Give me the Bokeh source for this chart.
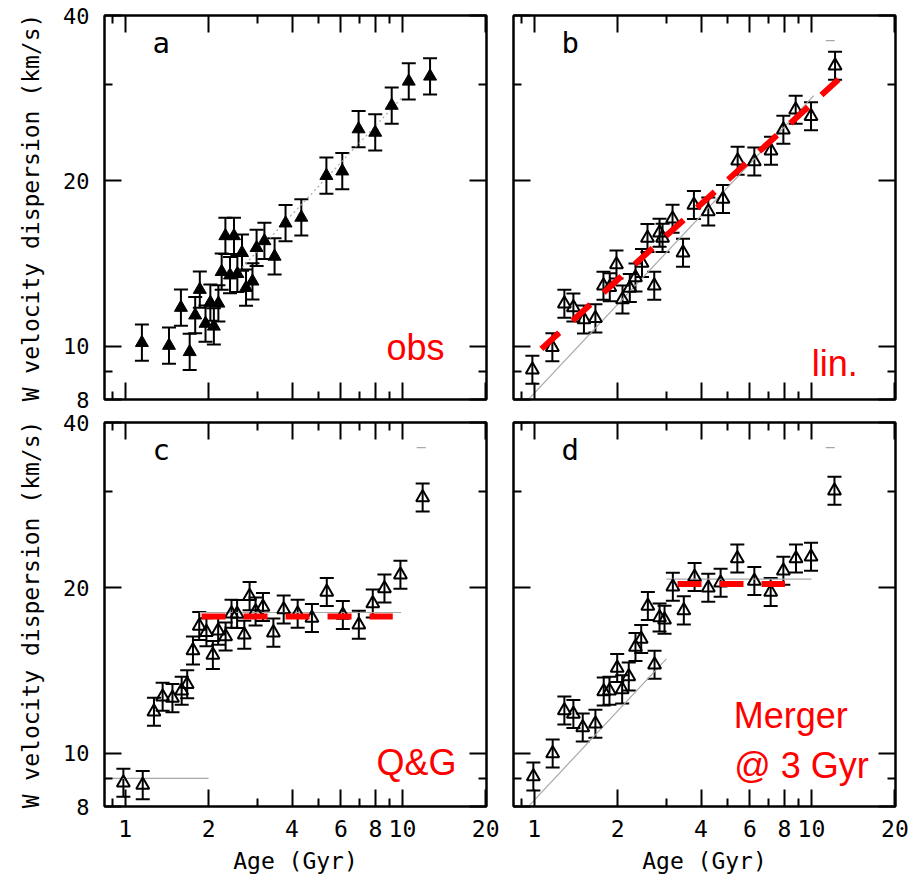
from bokeh.plotting import figure
from bokeh.models import (Range1d, LogAxis, FixedTicker, CustomJSTickFormatter,
                          ColumnDataSource, Whisker, TeeHead, Label)
from bokeh.layouts import gridplot
from bokeh.embed import file_html
from bokeh.resources import INLINE

# ---- data ---------------------------------------------------------------
# (a) observed W velocity dispersion vs age
age_obs = [1.15, 1.44, 1.59, 1.71, 1.79, 1.86, 1.95, 2.03, 2.09, 2.17, 2.23, 2.30,
           2.39, 2.47, 2.54, 2.64, 2.73, 2.88, 2.98, 3.18, 3.46, 3.79, 4.32, 5.32,
           6.07, 6.95, 7.98, 9.15, 10.54, 12.58]
sig_obs = [10.15, 10.03, 11.76, 9.77, 11.39, 12.68, 11.0, 12.01, 10.87, 11.97, 13.67,
           15.88, 13.47, 15.88, 13.55, 14.8, 12.78, 13.13, 15.11, 15.55, 14.57, 16.75,
           17.16, 20.44, 20.83, 24.85, 24.5, 27.43, 30.35, 31.0]

# (b) linear heating model
age_lin = [0.986, 1.164, 1.286, 1.386, 1.513, 1.664, 1.779, 1.875, 1.982, 2.084, 2.214,
           2.321, 2.450, 2.564, 2.712, 2.834, 2.906, 3.157, 3.444, 3.770, 4.248, 4.799,
           5.420, 6.226, 7.149, 7.923, 8.776, 9.968, 12.17]
sig_lin = [9.06, 9.96, 11.95, 11.76, 11.19, 11.24, 12.89, 12.80, 14.09, 12.17, 12.77,
           13.34, 14.17, 15.74, 12.89, 16.09, 15.75, 17.07, 14.8, 18.08, 17.59, 18.53,
           21.76, 21.7, 22.69, 24.78, 26.95, 26.23, 32.4]

# (c) Q&G saturation model
age_qg = [0.986, 1.158, 1.271, 1.366, 1.482, 1.600, 1.675, 1.757, 1.851, 1.965, 2.073,
          2.166, 2.304, 2.420, 2.535, 2.691, 2.812, 2.955, 3.142, 3.426, 3.732, 4.191,
          4.718, 5.337, 6.099, 6.964, 7.819, 8.615, 9.836, 11.83]
sig_qg = [8.84, 8.75, 11.90, 12.67, 12.60, 13.0, 13.35, 15.39, 17.04, 16.61, 15.1,
          16.71, 16.32, 17.95, 17.93, 16.43, 19.32, 18.11, 18.46, 16.58, 18.27, 17.95,
          17.62, 19.66, 17.85, 17.14, 18.74, 19.95, 21.13, 29.22]

# (d) merger at 3 Gyr model
age_mrg = [0.994, 1.167, 1.286, 1.386, 1.498, 1.664, 1.783, 1.870, 1.994, 2.078, 2.195,
           2.321, 2.434, 2.572, 2.719, 2.834, 2.954, 3.165, 3.467, 3.791, 4.248, 4.706,
           5.406, 6.226, 7.131, 7.923, 8.798, 9.968, 12.11]
sig_mrg = [9.07, 9.99, 11.96, 11.79, 11.14, 11.32, 12.96, 13.0, 14.29, 13.07, 13.8,
           15.61, 16.14, 18.53, 14.49, 17.67, 17.5, 20.09, 18.2, 20.93, 20.01, 20.44,
           22.62, 20.58, 19.66, 21.49, 22.62, 22.78, 30.05]

# error bar half-widths in dex
err_obs_dex = 0.033
err_model_dex = 0.0255

# thin grey reference curves
ref_age = [0.96, 10.2]
ref_sig = [8.03, 28.6]
obs_ref_age = [2.5, 10.0]
obs_ref_sig = [13.5, 28.4]
qg_low_age, qg_low_sig = [0.85, 2.0], [9.0, 9.0]
qg_high_age, qg_high_sig = [1.86, 9.9], [18.04, 18.04]
mrg_rise_age, mrg_rise_sig = [0.96, 3.0], [8.03, 14.85]
mrg_flat_age, mrg_flat_sig = [3.0, 10.0], [20.75, 20.75]
top_bin_age, top_bin_sig = [11.26, 12.14], [36.0, 36.0]

# red dashed fits
fit_lin_age, fit_lin_sig = [1.063, 12.52], [9.89, 30.59]
fit_qg_age, fit_qg_sig = [1.887, 9.23], [17.74, 17.74]
fit_mrg_age, fit_mrg_sig = [3.29, 8.03], [20.32, 20.32]

# axis ticks
x_major = [1, 2, 4, 6, 8, 10, 20]
x_minor = [0.9, 3, 5, 7, 9]
y_major = [8, 10, 20, 40]
y_minor = [9, 30]

MONO = "DejaVu Sans Mono"
SANS = "Liberation Sans"
FRAME_W, FRAME_H = 382, 384


def style_axis(ax, ticks, minor, show_labels, label_size="23px"):
    ax.ticker = FixedTicker(ticks=ticks, minor_ticks=minor)
    ax.formatter = CustomJSTickFormatter(code="return String(tick);")
    ax.major_tick_in = 17
    ax.major_tick_out = 0
    ax.minor_tick_in = 8
    ax.minor_tick_out = 0
    ax.major_tick_line_width = 2
    ax.minor_tick_line_width = 2
    ax.major_tick_line_color = "black"
    ax.minor_tick_line_color = "black"
    ax.axis_line_width = 2
    ax.axis_line_color = "black"
    if show_labels:
        ax.major_label_text_font = MONO
        ax.major_label_text_font_size = label_size
        ax.major_label_text_color = "black"
    else:
        ax.major_label_text_font_size = "0px"
        ax.major_label_text_color = None
        ax.major_label_standoff = 0


def panel(col, row, letter):
    left = col == 0
    bottom = row == 1
    bl, br = (104, 13) if left else (14, 27)
    bt, bb = (15, 12) if not bottom else (11, 72)
    p = figure(width=FRAME_W + bl + br, height=FRAME_H + bt + bb,
               x_axis_type="log", y_axis_type="log",
               x_range=Range1d(0.843, 20.1), y_range=Range1d(8, 40),
               min_border_left=bl, min_border_right=br,
               min_border_top=bt, min_border_bottom=bb,
               output_backend="svg", toolbar_location=None)
    p.grid.visible = False
    p.outline_line_color = "black"
    p.outline_line_width = 2
    p.background_fill_color = "white"
    p.border_fill_color = "white"

    style_axis(p.xaxis[0], x_major, x_minor, bottom, "23px")
    style_axis(p.yaxis[0], y_major, y_minor, left, "22px")
    if bottom:
        p.xaxis[0].major_label_standoff = 13
        p.xaxis[0].axis_label = "Age (Gyr)"
        p.xaxis[0].axis_label_standoff = 8
    if left:
        p.yaxis[0].major_label_standoff = 15
        p.yaxis[0].axis_label = "W velocity dispersion (km/s)"
        p.yaxis[0].axis_label_standoff = 16
    for ax in (p.xaxis[0], p.yaxis[0]):
        ax.axis_label_text_font = MONO
        ax.axis_label_text_font_size = "23px"
        ax.axis_label_text_font_style = "normal"
        ax.axis_label_text_color = "black"

    top_ax = LogAxis()
    style_axis(top_ax, x_major, x_minor, False)
    p.add_layout(top_ax, "above")
    right_ax = LogAxis()
    style_axis(right_ax, y_major, y_minor, False)
    p.add_layout(right_ax, "right")

    p.add_layout(Label(x=1.35, y=35.7, text=letter, text_font=MONO,
                       text_font_size="29px", text_color="black",
                       text_align="center", text_baseline="middle"))
    return p


def add_points(p, ages, sigs, err_dex, filled):
    f = 10 ** err_dex
    src = ColumnDataSource(dict(x=ages, y=sigs,
                                lo=[s / f for s in sigs],
                                hi=[s * f for s in sigs]))
    w = Whisker(base="x", upper="hi", lower="lo", source=src, dimension="height",
                line_color="black", line_width=2,
                upper_head=TeeHead(size=14, line_width=2, line_color="black"),
                lower_head=TeeHead(size=14, line_width=2, line_color="black"))
    p.add_layout(w)
    if filled:
        p.scatter("x", "y", source=src, marker="triangle", size=13,
                  fill_color="black", line_color="black", line_width=1)
    else:
        p.scatter("x", "y", source=src, marker="triangle", size=13,
                  fill_alpha=0, line_color="black", line_width=2)


def grey(p, xs, ys, dash="solid"):
    p.line(xs, ys, line_color="#a8a8a8", line_width=1.2, line_dash=dash)


def red_fit(p, xs, ys):
    p.line(xs, ys, line_color="red", line_width=6, line_dash="24 18",
           line_cap="butt")


def red_text(p, x, y, text, size="36px"):
    p.add_layout(Label(x=x, y=y, text=text, text_font=SANS, text_font_size=size,
                       text_color="red", text_align="left",
                       text_baseline="alphabetic"))


# (a) observations
pa = panel(0, 0, "a")
grey(pa, obs_ref_age, obs_ref_sig, dash="2 3")
add_points(pa, age_obs, sig_obs, err_obs_dex, True)
red_text(pa, 8.76, 9.96, "obs")

# (b) linear model
pb = panel(1, 0, "b")
grey(pb, ref_age, ref_sig)
grey(pb, top_bin_age, top_bin_sig)
add_points(pb, age_lin, sig_lin, err_model_dex, False)
red_fit(pb, fit_lin_age, fit_lin_sig)
red_text(pb, 10.02, 9.32, "lin.")

# (c) Q&G model
pc = panel(0, 1, "c")
grey(pc, qg_low_age, qg_low_sig)
grey(pc, qg_high_age, qg_high_sig)
grey(pc, top_bin_age, top_bin_sig)
add_points(pc, age_qg, sig_qg, err_model_dex, False)
red_fit(pc, fit_qg_age, fit_qg_sig)
red_text(pc, 8.06, 9.62, "Q&G")

# (d) merger model
pd_ = panel(1, 1, "d")
grey(pd_, mrg_rise_age, mrg_rise_sig)
grey(pd_, mrg_flat_age, mrg_flat_sig)
grey(pd_, top_bin_age, top_bin_sig)
add_points(pd_, age_mrg, sig_mrg, err_model_dex, False)
red_fit(pd_, fit_mrg_age, fit_mrg_sig)
red_text(pd_, 5.243, 11.7, "Merger")
red_text(pd_, 5.265, 9.49, "@ 3 Gyr")

grid = gridplot([[pa, pb], [pc, pd_]], toolbar_location=None)

open("out.html", "w").write(file_html(grid, INLINE))
